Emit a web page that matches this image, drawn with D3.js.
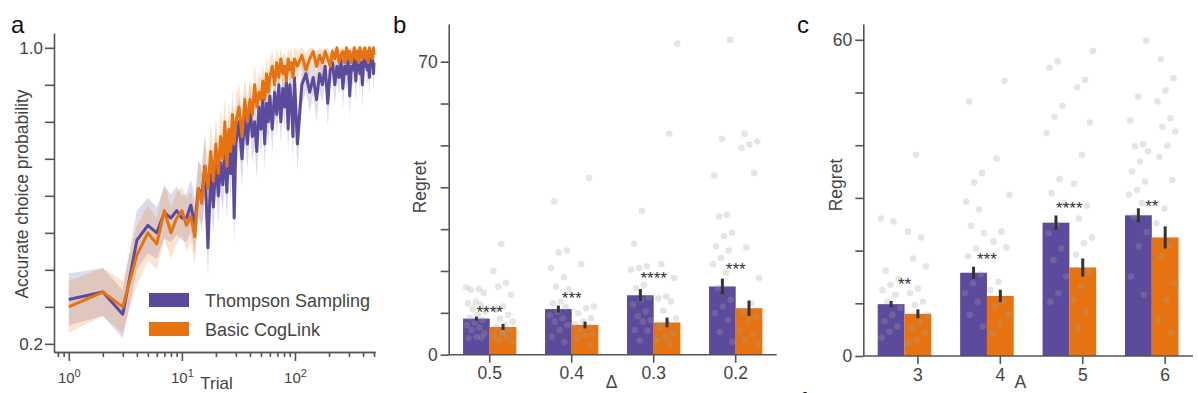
<!DOCTYPE html>
<html>
<head>
<meta charset="utf-8">
<script src="https://cdn.jsdelivr.net/npm/d3@7"></script>
<style>
	body { margin: 0; background: #fff; }
	svg { font-family: "Liberation Sans", Arial, sans-serif; }
</style>
</head>
<body>
<div id="chart"></div>
<script>
"use strict";

//  Panel a: accuracy over trials
const trials = [1,2,3,4,5,6,7,8,9,10,11,12,13,14,15,16,17,18,19,20,21,22,23,24,25,26,27,28,29,30,
	32,34,36,38,40,42,44,46,48,50,52,54,56,58,60,
	63,66,69,72,75,78,81,84,87,90,93,96,99,
	105,115,125,135,145,155,165,175,185,195,205,215,225,235,245,255,265,275,285,295,
	305,315,325,335,345,355,365,375,385,395,405,415,425,435,445,455,465,475,485,495,500];

const tsMean = [0.32,0.34,0.28,0.48,0.52,0.50,0.555,0.54,0.56,0.54,0.54,0.575,0.52,0.62,0.60,0.68,0.46,0.66,0.57,0.70,0.60,0.69,0.63,0.72,0.61,0.74,0.66,0.78,0.54,0.74,
	0.80,0.70,0.82,0.74,0.84,0.76,0.80,0.72,0.84,0.78,0.86,0.74,0.85,0.80,0.87,
	0.78,0.88,0.82,0.90,0.80,0.89,0.84,0.91,0.78,0.90,0.85,0.76,0.92,
	0.74,0.90,0.93,0.88,0.92,0.86,0.93,0.90,0.95,0.85,0.94,0.96,0.90,0.95,0.92,0.97,0.89,0.95,0.93,0.97,
	0.87,0.95,0.94,0.97,0.91,0.96,0.98,0.93,0.96,0.90,0.97,0.95,0.98,0.94,0.96,0.92,0.97,0.95,0.98,0.93,0.96];
const tsErr = [0.07,0.065,0.065,0.08,0.075,0.07,0.07,0.065,0.065,0.06,0.065,0.07,0.075,0.075,0.08,0.085,0.08,0.08,0.075,0.08,0.075,0.08,0.075,0.08,0.08,0.075,0.075,0.07,0.08,0.07,
	0.07,0.075,0.065,0.07,0.065,0.07,0.065,0.075,0.06,0.07,0.06,0.07,0.06,0.065,0.06,
	0.065,0.055,0.06,0.05,0.065,0.055,0.06,0.05,0.065,0.055,0.06,0.07,0.05,
	0.07,0.055,0.045,0.055,0.045,0.06,0.045,0.05,0.04,0.06,0.045,0.04,0.055,0.04,0.05,0.035,0.06,0.04,0.045,0.035,
	0.06,0.04,0.045,0.035,0.055,0.04,0.03,0.05,0.04,0.06,0.035,0.04,0.03,0.045,0.04,0.05,0.035,0.04,0.03,0.045,0.04];

const clMean = [0.30,0.34,0.30,0.44,0.50,0.47,0.56,0.50,0.54,0.56,0.52,0.545,0.49,0.62,0.58,0.68,0.62,0.72,0.64,0.74,0.66,0.76,0.70,0.80,0.68,0.78,0.72,0.82,0.74,0.80,
	0.84,0.76,0.86,0.80,0.86,0.82,0.90,0.84,0.88,0.86,0.91,0.86,0.93,0.88,0.92,
	0.95,0.90,0.96,0.92,0.97,0.93,0.95,0.91,0.97,0.94,0.96,0.92,0.97,
	0.95,0.98,0.94,0.97,0.99,0.95,0.98,0.96,0.99,0.97,0.95,0.99,0.97,1.0,0.96,0.98,0.99,0.96,1.0,0.97,
	0.99,0.96,0.98,1.0,0.97,0.99,0.96,1.0,0.98,0.97,0.99,1.0,0.97,0.99,0.96,1.0,0.98,0.99,0.97,1.0,0.98];
const clErr = [0.07,0.065,0.07,0.08,0.075,0.07,0.075,0.07,0.07,0.065,0.07,0.07,0.075,0.075,0.08,0.08,0.08,0.075,0.08,0.075,0.08,0.075,0.08,0.07,0.08,0.075,0.075,0.07,0.075,0.07,
	0.065,0.07,0.06,0.065,0.06,0.065,0.055,0.06,0.055,0.06,0.05,0.055,0.05,0.055,0.05,
	0.045,0.05,0.04,0.05,0.04,0.045,0.04,0.05,0.035,0.045,0.04,0.05,0.035,
	0.04,0.03,0.045,0.035,0.025,0.04,0.03,0.035,0.025,0.03,0.04,0.025,0.03,0.02,0.035,0.03,0.025,0.035,0.02,0.03,
	0.025,0.035,0.03,0.02,0.03,0.025,0.035,0.02,0.03,0.03,0.025,0.02,0.03,0.025,0.035,0.02,0.03,0.025,0.03,0.02,0.025];

const aYTicks = [0.2,0.3,0.4,0.5,0.6,0.7,0.8,0.9,1.0];
const aYLabels = [0.2, 1.0];
const aXMajor = [1, 10, 100];
const aXMinor = [0.8,0.9,2,3,4,5,6,7,8,9,20,30,40,50,60,70,80,90,200,300,400,500];
const legendNames = ['Thompson Sampling', 'Basic CogLink'];

//  Panel b: regret vs gap
const bCats = ['0.5', '0.4', '0.3', '0.2'];
const bTsMean = [8.62, 10.9, 14.2, 16.3];
const bTsErr = [0.48, 0.84, 1.48, 1.88];
const bClMean = [6.62, 7.1, 7.7, 11.1];
const bClErr = [0.72, 0.8, 1.16, 1.84];
const bStars = ['****', '***', '****', '***'];
const bStarY = [8.8, 12.2, 17.0, 19.1];
const bTsPts = [
	[16.1,15.7,15.5,14.8,12.7,12.3,11.9,10.9,10.3,9.5,8.9,8.3,7.7,7.1,6.5,5.9,5.1,4.3,3.9,4.1],
	[36.6,24.9,24.4,20.7,18.5,16.3,15.6,12.7,12.3,11.4,10.3,9.4,8.7,7.9,7.1,5.9,4.3,3.1],
	[34.4,26.5,21.1,20.7,20.3,16.7,15.9,13.6,13.1,12.0,10.3,9.2,8.3,7.9,5.9,5.7,3.4],
	[75.2,51.6,42.8,33.4,33.0,29.2,28.3,25.9,24.9,23.1,21.6,19.5,16.0,13.1,11.5,9.9,8.3,5.5,3.1]];
const bClPts = [
	[26.5,20.0,17.2,16.3,14.3,11.5,10.7,9.5,8.6,7.9,7.1,6.6,5.9,5.1,4.6,4.3,3.5,3.0,5.5],
	[42.2,21.6,11.5,11.1,9.9,8.7,7.9,7.2,6.7,5.9,5.1,4.5,3.9,2.3],
	[74.3,52.8,21.6,18.3,13.9,13.5,12.7,10.5,8.7,7.5,6.7,5.1,4.2,3.5,2.7],
	[52.8,51.0,50.2,49.4,43.4,25.6,18.3,12.3,10.3,9.0,7.9,5.9,4.7,3.5,2.7]];
const bYTicks = [0,10,20,30,40,50,60,70];
const bYLabels = [0, 70];

//  Panel c: regret vs number of arms
const cCats = ['3', '4', '5', '6'];
const cTsMean = [9.84, 15.8, 25.3, 26.7];
const cTsErr = [0.6, 1.14, 1.36, 1.33];
const cClMean = [8.0, 11.4, 16.8, 22.5];
const cClErr = [0.85, 1.17, 1.71, 2.09];
const cStars = ['**', '***', '****', '**'];
const cStarY = [12.6, 17.3, 26.9, 27.3];
const cTsPts = [
	[26.1,25.5,16.2,14.6,13.5,12.5,11.6,10.3,9.1,7.8,6.6,5.6,4.6,3.5],
	[48.3,34.7,32.9,29.3,27.8,24.7,23.3,20.4,18.9,15.5,13.8,11.9,10.3,7.8,5.6],
	[55.9,54.7,47.5,45.4,42.3,33.6,30.9,29.0,25.0,23.3,20.4,18.2,15.1,11.9,10.3],
	[59.8,49.2,44.7,40.2,39.8,38.8,36.9,35.0,33.1,31.5,30.6,29.0,26.5,23.5,20.8,15.1,11.6]];
const cClPts = [
	[38.2,23.6,22.5,18.5,17.0,12.8,11.9,10.3,9.7,7.8,6.5,5.3,4.3,3.0,2.5],
	[52.2,37.5,30.6,23.6,21.7,20.6,14.1,12.5,10.5,9.4,7.8,5.9,4.3],
	[57.9,52.4,51.0,44.3,38.2,32.7,28.5,26.1,22.5,21.4,19.2,16.0,13.2,10.6,8.4,5.3],
	[56.3,52.7,50.4,48.3,45.1,43.5,42.6,39.9,37.8,33.4,28.0,25.2,21.0,18.9,13.8,10.5,6.8,4.3]];
const cYTicks = [0,10,20,30,40,50,60];
const cYLabels = [0, 60];

const purple = '#5c4a9c', orange = '#e6730f';
const axisColor = '#555', textColor = '#444';

let svg = d3.select('#chart').append('svg')
	.attr('width', 1198)
	.attr('height', 393);

function styleAxis(g, fontSize)
{
	g.select('.domain').attr('stroke', axisColor).attr('stroke-width', 1.6);
	g.selectAll('.tick line').attr('stroke', axisColor).attr('stroke-width', 1.6);
	g.selectAll('.tick text').attr('fill', textColor).style('font-size', fontSize + 'px');
	g.attr('font-family', null);
}

function panelLetter(text, x, y)
{
	svg.append('text').attr('x', x).attr('y', y).text(text)
		.style('font-size', '24px').attr('fill', '#111');
}

//  Panel a
const xA = d3.scaleLog().domain([0.74, 510]).range([54, 375]);
const yA = d3.scaleLinear().domain([0.178, 1.04]).range([352, 33]);

let gA = svg.append('g');
let seriesA = [
	{ mean: tsMean, err: tsErr, color: purple },
	{ mean: clMean, err: clErr, color: orange }
];

seriesA.forEach(s =>
{
	let pts = trials.map((t, i) => ({ t: t, m: s.mean[i], e: s.err[i] }));
	gA.append('path').datum(pts)
		.attr('fill', s.color)
		.attr('fill-opacity', 0.2)
		.attr('d', d3.area()
			.x(d => xA(d.t))
			.y0(d => yA(d.m - d.e))
			.y1(d => yA(Math.min(1, d.m + d.e))));
});

seriesA.forEach(s =>
{
	let pts = trials.map((t, i) => ({ t: t, m: s.mean[i] }));
	gA.append('path').datum(pts)
		.attr('fill', 'none')
		.attr('stroke', s.color)
		.attr('stroke-width', 3)
		.attr('stroke-linejoin', 'round')
		.attr('d', d3.line().x(d => xA(d.t)).y(d => yA(d.m)));
});

let ayAxis = gA.append('g').attr('transform', 'translate(54,0)')
	.call(d3.axisLeft(yA).tickValues(aYTicks).tickSize(9).tickPadding(2).tickSizeOuter(0)
		.tickFormat(d => aYLabels.includes(d) ? d.toFixed(1) : ''));
styleAxis(ayAxis, 17);

let axMinor = gA.append('g').attr('transform', 'translate(0,352)')
	.call(d3.axisBottom(xA).tickValues(aXMinor).tickSize(5).tickFormat('').tickSizeOuter(0));
styleAxis(axMinor, 15);

let axMajor = gA.append('g').attr('transform', 'translate(0,352)')
	.call(d3.axisBottom(xA).tickValues(aXMajor).tickSize(9).tickFormat('').tickSizeOuter(0));
styleAxis(axMajor, 15);
axMajor.selectAll('.tick text')
	.attr('y', 31).attr('dy', null)
	.each(function(d)
	{
		let t = d3.select(this);
		t.append('tspan').text('10');
		t.append('tspan').attr('dy', '-0.55em').style('font-size', '11px').text(Math.round(Math.log10(d)));
	});

gA.append('text').text('Accurate choice probability')
	.attr('transform', 'translate(27.5,194) rotate(-90)')
	.attr('text-anchor', 'middle').attr('fill', textColor).style('font-size', '17.5px');
gA.append('text').text('Trial')
	.attr('x', 216.5).attr('y', 389).attr('text-anchor', 'middle')
	.attr('fill', textColor).style('font-size', '17px');

//  Legend
let legend = gA.append('g');
legend.selectAll('rect').data(legendNames).join('rect')
	.attr('x', 149).attr('y', (d, i) => 293 + i * 29)
	.attr('width', 40).attr('height', 14)
	.attr('fill', (d, i) => i === 0 ? purple : orange);
legend.selectAll('text').data(legendNames).join('text')
	.attr('x', 205).attr('y', (d, i) => 307 + i * 28.5)
	.text(d => d).attr('fill', textColor).style('font-size', '18px');

panelLetter('a', 11, 33);

//  Bar panels
function barPanel(opt)
{
	let g = svg.append('g');
	let x = d3.scaleBand().domain(opt.cats).range([opt.x0, opt.x1]).paddingInner(0.35).paddingOuter(0.175);
	let xs = d3.scaleBand().domain(['ts', 'cl']).range([0, x.bandwidth()]);
	let y = d3.scaleLinear().domain([0, opt.ymax]).range([opt.yBase, opt.yTop]);

	let groups = opt.cats.map((c, i) => ({
		cat: c,
		bars: [
			{ key: 'ts', mean: opt.tsMean[i], err: opt.tsErr[i], pts: opt.tsPts[i], color: purple },
			{ key: 'cl', mean: opt.clMean[i], err: opt.clErr[i], pts: opt.clPts[i], color: orange }
		],
		star: opt.stars[i],
		starY: opt.starY[i]
	}));

	let gg = g.selectAll('.group').data(groups).join('g')
		.attr('transform', d => `translate(${x(d.cat)},0)`);

	gg.selectAll('rect').data(d => d.bars).join('rect')
		.attr('x', b => xs(b.key))
		.attr('width', xs.bandwidth())
		.attr('y', b => y(b.mean))
		.attr('height', b => y(0) - y(b.mean))
		.attr('fill', b => b.color);

	gg.each(function(d, gi)
	{
		let grp = d3.select(this);
		d.bars.forEach((b, bi) =>
		{
			let cx = xs(b.key) + xs.bandwidth() / 2;
			grp.selectAll('.dot' + bi).data(b.pts).join('circle')
				.attr('cx', (v, k) => cx + (((k * 0.618034 + gi * 0.29 + bi * 0.41) % 1) - 0.5) * (xs.bandwidth() - 6))
				.attr('cy', v => y(v))
				.attr('r', 3.3)
				.attr('fill', '#a0a0a0')
				.attr('fill-opacity', 0.28);
		});
	});

	gg.selectAll('line.err').data(d => d.bars).join('line')
		.classed('err', true)
		.attr('x1', b => xs(b.key) + xs.bandwidth() / 2)
		.attr('x2', b => xs(b.key) + xs.bandwidth() / 2)
		.attr('y1', b => y(b.mean - b.err))
		.attr('y2', b => y(b.mean + b.err))
		.attr('stroke', '#333')
		.attr('stroke-width', 3);

	gg.append('text')
		.attr('x', x.bandwidth() / 2)
		.attr('y', d => y(d.starY))
		.attr('text-anchor', 'middle')
		.attr('fill', '#333')
		.style('font-size', '17px')
		.text(d => d.star);

	let yAxis = g.append('g').attr('transform', `translate(${opt.x0},0)`)
		.call(d3.axisLeft(y).tickValues(opt.yTicks).tickSize(8).tickPadding(3).tickSizeOuter(0)
			.tickFormat(d => opt.yLabels.includes(d) ? d : ''));
	styleAxis(yAxis, 17.5);

	let xAxis = g.append('g').attr('transform', `translate(0,${opt.yBase})`)
		.call(d3.axisBottom(x).tickSize(8).tickSizeOuter(0).offset(0));
	styleAxis(xAxis, 17.5);
	xAxis.selectAll('.tick').attr('transform', d => `translate(${x(d) + x.bandwidth() * opt.tickFrac},0)`);
	xAxis.selectAll('.tick text').attr('y', 24.5).attr('dy', null);

	g.append('text').text('Regret')
		.attr('transform', `translate(${opt.ylabX},${opt.ylabY}) rotate(-90)`)
		.attr('text-anchor', 'middle').attr('fill', textColor).style('font-size', '17.5px');
	g.append('text').text(opt.xlab)
		.attr('x', opt.xlabX).attr('y', 387.5).attr('text-anchor', 'middle')
		.attr('fill', textColor).style('font-size', '17.5px');
}

barPanel({
	cats: bCats, tsMean: bTsMean, tsErr: bTsErr, clMean: bClMean, clErr: bClErr,
	tsPts: bTsPts, clPts: bClPts, stars: bStars, starY: bStarY,
	x0: 448.7, x1: 776.7, yBase: 354.7, yTop: 24, ymax: 79,
	yTicks: bYTicks, yLabels: bYLabels, tickFrac: 0.5,
	ylabX: 425.5, ylabY: 187, xlab: 'Δ', xlabX: 611.7
});
panelLetter('b', 393, 33);

barPanel({
	cats: cCats, tsMean: cTsMean, tsErr: cTsErr, clMean: cClMean, clErr: cClErr,
	tsPts: cTsPts, clPts: cClPts, stars: cStars, starY: cStarY,
	x0: 863.3, x1: 1193, yBase: 356, yTop: 24, ymax: 63,
	yTicks: cYTicks, yLabels: cYLabels, tickFrac: 0.75,
	ylabX: 842, ylabY: 185, xlab: 'A', xlabX: 1020.3
});
panelLetter('c', 797, 33);

//  Label of the panel below, cut off by the frame
panelLetter('f', 800, 409);
</script>
</body>
</html>
